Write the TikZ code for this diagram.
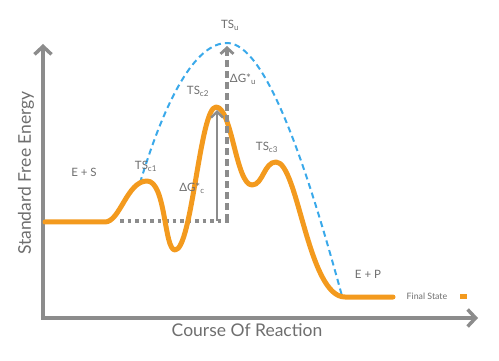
\documentclass[tikz,border=0pt]{standalone}
\usepackage{fontspec}
\setmainfont{Lato}
\usetikzlibrary{arrows.meta}
\definecolor{axisgray}{HTML}{8C8C8C}
\definecolor{txtgray}{HTML}{6E6E6E}
\definecolor{curveorange}{HTML}{F39A1E}
\definecolor{tsblue}{HTML}{3AA9EA}
\tikzset{
  axisline/.style={draw=axisgray, line width=4.5pt, -{Straight Barb[length=8pt,width=17pt,line width=3.5pt]}},
  lbl/.style={text=txtgray, font=\fontsize{11.5}{13}\selectfont, inner sep=0pt},
  axlbl/.style={text=txtgray, font=\fontsize{17.5}{19}\selectfont, inner sep=0pt},
  energy/.style={draw=curveorange, line width=5pt, line cap=round, line join=round},
  uncat/.style={draw=tsblue, line width=2pt, dash pattern=on 6pt off 4pt},
  solidarrow/.style={draw=axisgray, line width=2.8pt, -{Straight Barb[length=6pt,width=12pt,line width=2.4pt]}},
  dasharrow/.style={draw=axisgray, line width=3.5pt, dash pattern=on 7pt off 4pt, -{Straight Barb[length=6pt,width=13pt,line width=2.8pt]}},
  levelline/.style={draw=axisgray, line width=3.5pt, dash pattern=on 3.5pt off 4pt}
}
\begin{document}
\begin{tikzpicture}[x=1pt,y=-1pt]
\useasboundingbox (0,0) rectangle (499,361);
% axes
\coordinate (origin) at (43,318);
\coordinate (ytip) at (43,44);
\coordinate (xtip) at (478,318);
\draw[axisline] (origin) -- (ytip);
\draw[axisline] ([xshift=-2.25pt]origin) -- (xtip);
\node[axlbl, rotate=90] (ylab) at (26,173) {Standard Free Energy};
\node[axlbl] (xlab) at (247,330) {Course Of Reaction};
% uncatalysed (blue dashed)
\coordinate (b0) at (140,183);
\coordinate (tsu) at (227,43);
\coordinate (b1) at (342,296);
\draw[uncat] (b0) .. controls (165,100) and (195,43) .. (tsu) .. controls (265,43) and (305,160) .. (b1);
% level line
\coordinate (l0) at (120,221);
\coordinate (l1) at (229,221);
\draw[levelline] (l0) -- (l1);
% energy curve
\coordinate (start) at (45,222);
\coordinate (endp) at (393,297);
\draw[energy] (start) -- (105,222) .. controls (120,222) and (127,181) .. (147,181)
  .. controls (166,181) and (164,250) .. (175,250)
  .. controls (192,250) and (200,107) .. (216,107)
  .. controls (232,107) and (236,185) .. (252,185)
  .. controls (263,185) and (264,162) .. (276,162)
  .. controls (298,162) and (308,297) .. (345,297) -- (endp);
% arrows
\coordinate (a0) at (217,221);
\coordinate (a1) at (217,110);
\draw[solidarrow] (a0) -- (a1);
\coordinate (d0) at (227,221);
\coordinate (d1) at (227,46);
\draw[dasharrow] (d0) -- (d1);
% labels
\node[lbl] (lTSu) at (230,25) {TS\textsubscript{u}};
\node[lbl] (lDGu) at (243,79) {ΔG*\textsubscript{u}};
\node[lbl] (lTSc2) at (198,91) {TS\textsubscript{c2}};
\node[lbl] (lTSc1) at (146,166) {TS\textsubscript{c1}};
\node[lbl] (lDGc) at (192,188) {ΔG*\textsubscript{c}};
\node[lbl] (lTSc3) at (267,147) {TS\textsubscript{c3}};
\node[lbl] (lES) at (84,172) {E + S};
\node[lbl] (lEP) at (368,274) {E + P};
\node[lbl, font=\fontsize{8.8}{10}\selectfont] (lFS) at (427,296) {Final State};
\coordinate (k0) at (460,296.5);
\coordinate (k1) at (467,296.5);
\draw[draw=curveorange, line width=5pt] (k0) -- (k1);
\end{tikzpicture}
\end{document}
